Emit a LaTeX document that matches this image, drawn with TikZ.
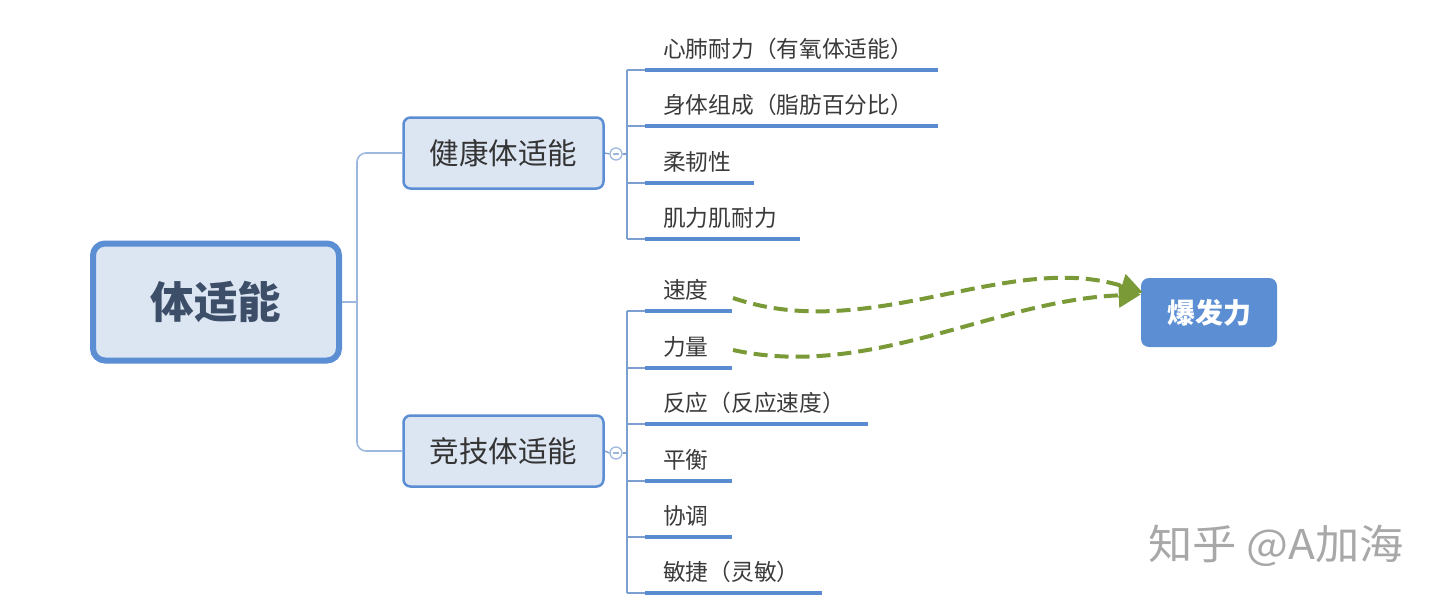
\documentclass[tikz,border=0pt]{standalone}
\usepackage{fontspec}
\setmainfont{Noto Sans CJK SC}
\newfontfamily\cjk{Noto Sans CJK SC}
\usetikzlibrary{arrows.meta,calc}
\definecolor{boxfill}{HTML}{DCE5F2}
\definecolor{boxline}{HTML}{5B8ED3}
\definecolor{trunk}{HTML}{9DB8DD}
\definecolor{subline}{HTML}{7C9FCF}
\definecolor{uline}{HTML}{5A8AD0}
\definecolor{txt}{HTML}{3A3A3A}
\definecolor{roottxt}{HTML}{3D4F68}
\definecolor{arrowgreen}{HTML}{7A9A38}
\definecolor{wm}{HTML}{A8A8A8}
\begin{document}
\begin{tikzpicture}[x=1pt,y=-1pt,
  rootbox/.style={draw=boxline,line width=6pt,fill=boxfill,rounded corners=12pt,
    minimum width=246pt,minimum height=117pt,inner sep=0pt,
    font=\cjk\bfseries\fontsize{43.5}{43.5}\selectfont,text=roottxt},
  midbox/.style={draw=boxline,line width=2.5pt,fill=boxfill,rounded corners=7pt,
    minimum width=200pt,minimum height=71pt,inner sep=0pt,
    font=\cjk\fontsize{29.5}{29.5}\selectfont,text=txt!90!black},
  leaf/.style={anchor=south west,inner xsep=0pt,inner ysep=7pt,
    text height=18pt,text depth=5pt,text width=#1,align=left,
    font=\cjk\fontsize{22.7}{22.7}\selectfont,text=txt},
  trunkline/.style={draw=trunk,line width=1.6pt},
  subtrunk/.style={draw=subline,line width=1.3pt},
  ul/.style={draw=uline,line width=3.6pt},
  knob/.style={circle,draw=trunk,line width=1.3pt,minimum size=12pt,inner sep=0pt,fill=white},
  greenarrow/.style={draw=arrowgreen,line width=4pt,dash pattern=on 14pt off 7pt,
    -{Triangle[length=22pt,width=24pt]}},
  endbox/.style={fill=boxline,rounded corners=8pt,minimum width=136pt,minimum height=69pt,
    inner sep=0pt,font=\cjk\bfseries\fontsize{28}{28}\selectfont,text=white}
]
\useasboundingbox (0,0) rectangle (1440,605);

% root and middle nodes
\node[rootbox] (root) at (216,302) {体适能};
\node[midbox] (health) at (503.5,153) {健康体适能};
\node[midbox] (sport) at (503.5,451) {竞技体适能};

\coordinate (fork) at (357,302);
\draw[trunkline] (root.east) -- (fork);
\draw[trunkline,rounded corners=9pt] (fork) |- (health.west);
\draw[trunkline,rounded corners=9pt] (fork) |- (sport.west);

% knobs
\node[knob] (hk) at (616,154) {};
\node[knob] (sk) at (616,453) {};
\draw[trunk,line width=1.2pt] ($(hk.center)+(-3,0)$) -- ($(hk.center)+(3,0)$);
\draw[trunk,line width=1.2pt] ($(sk.center)+(-3,0)$) -- ($(sk.center)+(3,0)$);
\draw[subtrunk] (health.east) -- (hk.west);
\draw[subtrunk] (sport.east) -- (sk.west);

% health leaves
\node[leaf=293pt] (h1) at (645,70) {\hspace*{18pt}心肺耐力（有氧体适能）};
\node[leaf=293pt] (h2) at (645,126) {\hspace*{18pt}身体组成（脂肪百分比）};
\node[leaf=109pt] (h3) at (645,183) {\hspace*{18pt}柔韧性};
\node[leaf=155pt] (h4) at (645,239) {\hspace*{18pt}肌力肌耐力};

% sport leaves
\node[leaf=87pt] (s1) at (645,311) {\hspace*{18pt}速度};
\node[leaf=87pt] (s2) at (645,368) {\hspace*{18pt}力量};
\node[leaf=223pt] (s3) at (645,424) {\hspace*{18pt}反应（反应速度）};
\node[leaf=87pt] (s4) at (645,481) {\hspace*{18pt}平衡};
\node[leaf=87pt] (s5) at (645,537) {\hspace*{18pt}协调};
\node[leaf=177pt] (s6) at (645,593) {\hspace*{18pt}敏捷（灵敏）};

\coordinate (ht) at (627,70);
\coordinate (hb) at (627,239);
\coordinate (st) at (627,311);
\coordinate (sb) at (627,593);
\draw[subtrunk] (hk.east) -- (hk.east -| ht);
\draw[subtrunk] (sk.east) -- (sk.east -| st);
\draw[subtrunk] (ht) -- (hb);
\draw[subtrunk] (st) -- (sb);
\foreach \n in {h1,h2,h3,h4,s1,s2,s3,s4,s5,s6}{
  \draw[subtrunk] (\n.south west -| ht) -- (\n.south west);
  \draw[ul] (\n.south west) -- (\n.south east);
}

% explosive power
\node[endbox] (burst) at (1209,312.5) {爆发力};
\coordinate (s1tail) at (733,298);
\coordinate (s2tail) at (733,350);
\coordinate (tipA) at ($(burst.west)+(2,-20)$);
\coordinate (tipB) at ($(burst.west)+(0,-18)$);
\draw[greenarrow] (s1tail) .. controls (870,345) and (1008,250) .. (tipA);
\draw[greenarrow] (s2tail) .. controls (870,380) and (995,300) .. (tipB);

% watermark
\node[font=\cjk\fontsize{41}{41}\selectfont,text=wm,anchor=west,inner sep=0pt] (mark) at (1148,546) {\scalebox{1.08}[1]{知乎 @A加海}};
\end{tikzpicture}
\end{document}
